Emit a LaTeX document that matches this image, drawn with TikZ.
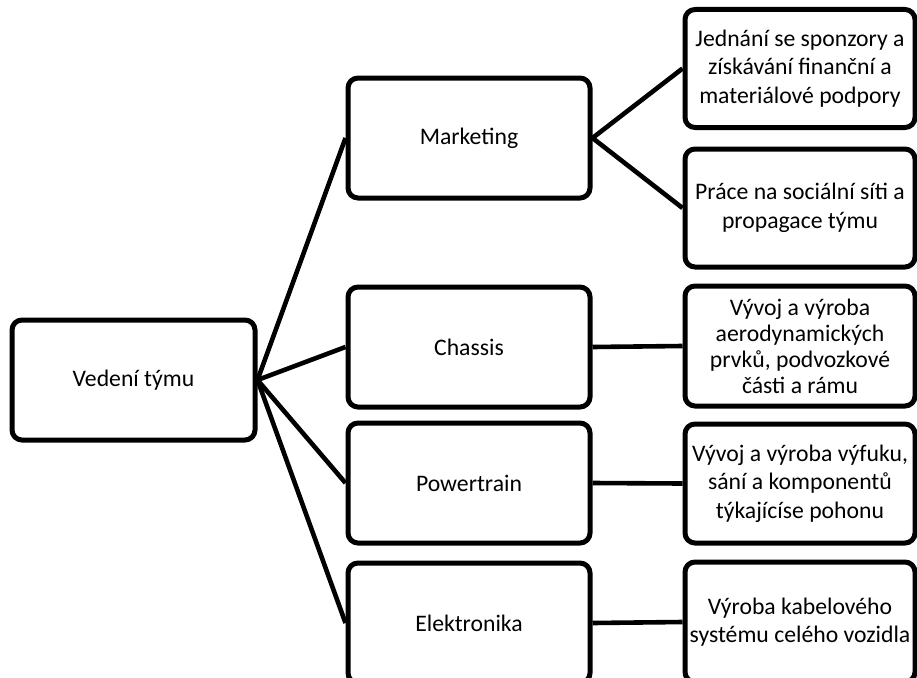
\documentclass[tikz,border=0pt]{standalone}
\usepackage{fontspec}
\setmainfont{Carlito}
\begin{document}
\begin{tikzpicture}[x=1pt,y=-1pt,
  box/.style={draw=black,line width=5pt,rounded corners=10pt,fill=white,align=center,
    font=\fontsize{23.7}{28.5}\selectfont,inner sep=0pt},
  midbox/.style={box,minimum width=242pt,minimum height=120pt},
  detbox/.style={box,minimum width=230pt,minimum height=119pt},
  conn/.style={line width=4.6pt}]
\useasboundingbox (0,0) rectangle (917,677);
\clip (0,0) rectangle (917,677);
% nodes
\node[box,minimum width=243pt,minimum height=120pt] (root) at (133.5,380) {Vedení týmu};
\node[midbox] (mk) at (469,138) {Marketing};
\node[midbox] (ch) at (469,347) {Chassis};
\node[midbox] (pt) at (469,483) {Powertrain};
\node[midbox] (el) at (469,623) {Elektronika};
\node[detbox,minimum height=118pt] (d1) at (800,68.5) {Jednání se sponzory a\\získávání finanční a\\materiálové podpory};
\node[detbox,minimum height=118pt] (d2) at (800,208) {Práce na sociální síti a\\propagace týmu};
\node[detbox,minimum height=120pt,font=\fontsize{23.7}{26}\selectfont] (d3) at (800,346) {Vývoj a výroba\\aerodynamických\\prvků, podvozkové\\části a rámu};
\node[detbox] (d4) at (800,483.5) {Vývoj a výroba výfuku,\\sání a komponentů\\týkajícíse pohonu};
\node[detbox,minimum height=120pt] (d5) at (800,622) {Výroba kabelového\\systému celého vozidla};
% connectors
\draw[conn] (root.east) -- (mk.west);
\draw[conn] (root.east) -- (ch.west);
\draw[conn] (root.east) -- (pt.west);
\draw[conn] (root.east) -- (el.west);
\draw[conn] (mk.east) -- (d1.west);
\draw[conn] (mk.east) -- (d2.west);
\draw[conn] (ch.east) -- (d3.west);
\draw[conn] (pt.east) -- (d4.west);
\draw[conn] (el.east) -- (d5.west);
\end{tikzpicture}
\end{document}
